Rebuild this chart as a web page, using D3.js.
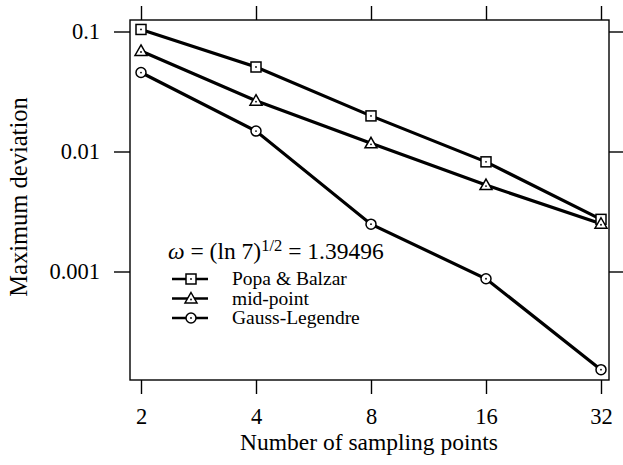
<!DOCTYPE html>
<html><head><meta charset="utf-8">
<script src="https://cdn.jsdelivr.net/npm/d3@7"></script>
<style>body{margin:0;background:#fff}svg{display:block}text{font-family:"Liberation Serif","Times New Roman",serif;fill:#000}</style>
</head><body><svg id="c" width="623" height="465"></svg>
<script>
const samplingPoints = [2, 4, 8, 16, 32];
const popaBalzar = [0.104, 0.0506, 0.0198, 0.0082, 0.00272];
const midPoint = [0.0688, 0.0265, 0.0117, 0.00525, 0.00250];
const gaussLegendre = [0.0455, 0.0148, 0.00248, 0.00087, 0.000152];
const yTicks = [0.1, 0.01, 0.001];
const yTickLabels = ["0.1", "0.01", "0.001"];
const seriesNames = ["Popa & Balzar", "mid-point", "Gauss-Legendre"];
const seriesMarkers = ["square", "triangle", "circle"];

const svg = d3.select("#c");
const L = 130, R = 609, T = 20, B = 380;
const x = d3.scaleLog().base(2).domain([2, 32]).range([141, 601]);
const y = d3.scaleLog().domain([0.1, 0.001]).range([31.5, 271.5]);
const serif = '"Liberation Serif","Times New Roman",serif';

// frame
svg.append("rect").attr("x", L).attr("y", T).attr("width", R - L).attr("height", B - T)
  .attr("fill", "none").attr("stroke", "#000").attr("stroke-width", 1.4);

// axes
const ax = d3.axisBottom(x).tickValues(samplingPoints).tickFormat(d3.format("d")).tickSize(14).tickPadding(14);
const gx = svg.append("g").attr("transform", `translate(0,${B})`).call(ax);
const gxt = svg.append("g").attr("transform", `translate(0,${T})`).call(d3.axisTop(x).tickValues(samplingPoints).tickSize(14).tickFormat(""));
const ay = d3.axisLeft(y).tickValues(yTicks).tickFormat((d, i) => yTickLabels[i]).tickSize(16).tickPadding(14);
const gy = svg.append("g").attr("transform", `translate(${L},0)`).call(ay);
const gyr = svg.append("g").attr("transform", `translate(${R},0)`).call(d3.axisRight(y).tickValues(yTicks).tickSize(14).tickFormat(""));
[gx, gxt, gy, gyr].forEach(g => {
  g.select(".domain").remove();
  g.selectAll(".tick line").attr("stroke", "#000").attr("stroke-width", 1.4);
  g.selectAll("text").attr("font-size", 22.5).attr("font-family", serif).attr("fill", "#000");
});

// axis titles
svg.append("text").attr("x", 369).attr("y", 450).attr("text-anchor", "middle")
  .attr("font-family", serif).attr("font-size", 23.5).text("Number of sampling points");
svg.append("text").attr("transform", `translate(27,197) rotate(-90)`).attr("text-anchor", "middle")
  .attr("font-family", serif).attr("font-size", 24.5).text("Maximum deviation");

function marker(g, type, cx, cy) {
  if (type === "square") {
    g.append("rect").attr("x", cx - 5).attr("y", cy - 5).attr("width", 10).attr("height", 10)
      .attr("fill", "#fff").attr("stroke", "#000").attr("stroke-width", 1.5);
  } else if (type === "triangle") {
    g.append("path").attr("d", `M${cx},${cy - 6}L${cx + 6},${cy + 4.5}L${cx - 6},${cy + 4.5}Z`)
      .attr("fill", "#fff").attr("stroke", "#000").attr("stroke-width", 1.5);
  } else {
    g.append("circle").attr("cx", cx).attr("cy", cy).attr("r", 5)
      .attr("fill", "#fff").attr("stroke", "#000").attr("stroke-width", 1.5);
  }
  g.append("circle").attr("cx", cx).attr("cy", cy + (type === "triangle" ? 1 : 0)).attr("r", 0.9).attr("fill", "#000");
}

const series = [popaBalzar, midPoint, gaussLegendre];
const line = d3.line().x((d, i) => x(samplingPoints[i])).y(d => y(d));
series.forEach((s, k) => {
  svg.append("path").datum(s).attr("d", line).attr("fill", "none").attr("stroke", "#000").attr("stroke-width", 3.2);
});
series.forEach((s, k) => {
  const g = svg.append("g");
  s.forEach((v, i) => marker(g, seriesMarkers[k], x(samplingPoints[i]), y(v)));
});

// legend
const lt = svg.append("text").attr("x", 168).attr("y", 259).attr("font-family", serif).attr("font-size", 23.5);
lt.append("tspan").attr("font-style", "italic").text("ω");
lt.append("tspan").text(" = (ln 7)");
lt.append("tspan").attr("dy", -8).attr("font-size", 16.5).text("1/2");
lt.append("tspan").attr("dy", 8).text(" = 1.39496");
seriesNames.forEach((n, k) => {
  const yy = 279 + k * 19.5;
  svg.append("line").attr("x1", 172).attr("x2", 208).attr("y1", yy).attr("y2", yy).attr("stroke", "#000").attr("stroke-width", 2.4);
  marker(svg.append("g"), seriesMarkers[k], 191, yy);
  svg.append("text").attr("x", 232).attr("y", yy + 6).attr("font-family", serif).attr("font-size", 19.5).text(n);
});
</script></body></html>
